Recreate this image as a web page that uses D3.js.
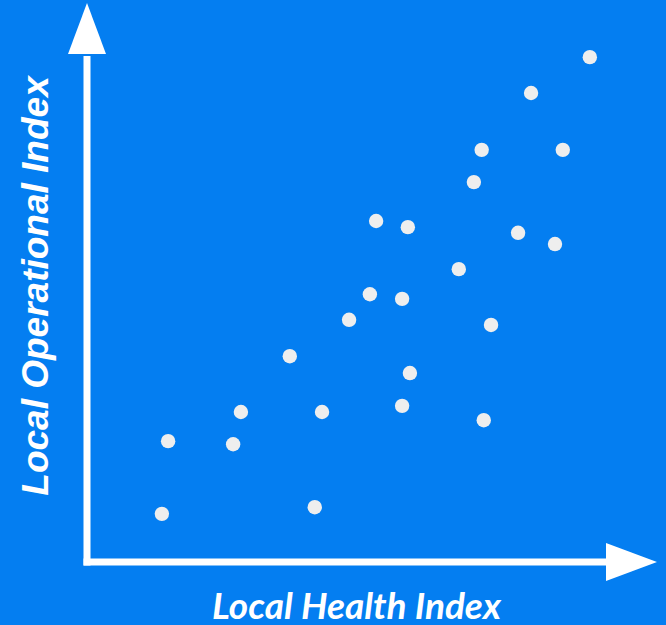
<!DOCTYPE html>
<html><head><meta charset="utf-8">
<script src="https://cdn.jsdelivr.net/npm/d3@7"></script>
<style>html,body{margin:0;padding:0;background:#047EF1;}svg{display:block;}</style>
</head><body>
<script>
const healthIndex = [15.6,14.4,28.1,29.6,39.0,43.8,45.2,50.4,54.4,55.6,60.6,60.6,61.7,62.1,71.5,74.4,75.9,76.3,77.7,82.9,85.4,90.0,91.5,96.7];
const operationalIndex = [23.6,9.4,23.0,29.3,40.2,10.7,29.3,47.3,52.3,66.6,51.4,30.5,65.4,36.9,57.2,74.2,80.5,27.7,46.3,64.3,91.6,62.1,80.5,98.6];
const xLabel = "Local Health Index";
const yLabel = "Local Operational Index";

const W = 666, H = 625;
const svg = d3.select("body").append("svg").attr("width", W).attr("height", H);
svg.append("rect").attr("width", W).attr("height", H).attr("fill", "#047EF1");

const x = d3.scaleLinear().domain([0,100]).range([87,607]);
const y = d3.scaleLinear().domain([0,100]).range([562,50]);

const data = healthIndex.map((v,i)=>({x:v,y:operationalIndex[i]}));

// axes
svg.append("line").attr("x1",x(0)).attr("x2",x(0)).attr("y1",y(0)+3.5).attr("y2",y(100)+6)
  .attr("stroke","#fff").attr("stroke-width",7);
svg.append("line").attr("x1",x(0)-3.5).attr("x2",x(100)).attr("y1",y(0)).attr("y2",y(0))
  .attr("stroke","#fff").attr("stroke-width",7);
// arrow heads
svg.append("path").attr("fill","#fff")
  .attr("d",`M${x(0)-19},${y(100)+4} L${x(0)},${y(100)-47} L${x(0)+19},${y(100)+4} Z`);
svg.append("path").attr("fill","#fff")
  .attr("d",`M${x(100)-1},${y(0)-19} L${x(100)+50},${y(0)} L${x(100)-1},${y(0)+19} Z`);

svg.append("g").selectAll("circle").data(data).join("circle")
  .attr("cx",d=>x(d.x)).attr("cy",d=>y(d.y)).attr("r",7.2).attr("fill","#EEEEEE");

svg.append("text").attr("x",356.5).attr("y",619).attr("text-anchor","middle")
  .attr("font-family","Lato").attr("font-weight","bold").attr("font-style","italic")
  .attr("font-size",37).attr("fill","#fff").text(xLabel);
svg.append("text").attr("transform","translate(48,286) rotate(-90)").attr("text-anchor","middle")
  .attr("font-family","'Liberation Sans', Arial").attr("font-weight","bold").attr("font-style","italic")
  .attr("font-size",37).attr("fill","#fff").text(yLabel);
</script>
</body></html>
